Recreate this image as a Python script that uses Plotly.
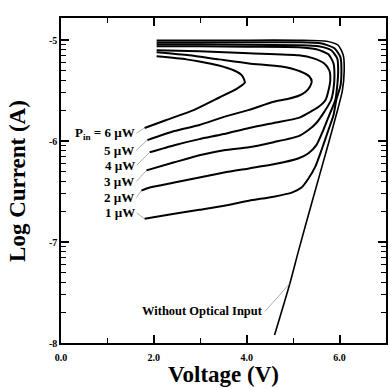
import numpy as np
import plotly.graph_objects as go

# ---------------- data (voltage in V, log10 current in A) ----------------
v_dark = [4.60, 4.93, 5.12, 5.42, 5.72, 5.97, 6.06, 6.10, 6.08, 5.97, 5.72, 5.12, 4.05, 2.98, 2.06]
logi_dark = [-7.92, -7.41, -7.08, -6.58, -6.09, -5.67, -5.50, -5.30, -5.15, -5.05, -5.01, -5.00, -5.00, -5.00, -5.00]

v_1uw = [1.80, 2.44, 2.98, 3.51, 4.05, 4.58, 4.97, 5.18, 5.33, 5.48, 5.61, 5.76, 5.87, 5.93, 6.02, 6.04, 6.02, 5.89, 5.59, 5.12, 4.05, 2.98, 2.06]
logi_1uw = [-6.77, -6.72, -6.68, -6.64, -6.59, -6.55, -6.51, -6.46, -6.37, -6.25, -6.09, -5.89, -5.74, -5.59, -5.45, -5.30, -5.17, -5.08, -5.03, -5.02, -5.02, -5.02, -5.02]

v_2uw = [1.73, 1.91, 2.44, 2.98, 3.51, 4.05, 4.58, 5.12, 5.33, 5.50, 5.65, 5.78, 5.91, 5.95, 5.97, 5.95, 5.82, 5.55, 5.12, 4.05, 2.98, 2.06]
logi_2uw = [-6.49, -6.46, -6.41, -6.36, -6.31, -6.27, -6.23, -6.17, -6.12, -6.04, -5.89, -5.74, -5.59, -5.45, -5.30, -5.18, -5.10, -5.06, -5.05, -5.045, -5.04, -5.04]

v_3uw = [1.84, 2.44, 2.98, 3.51, 4.05, 4.58, 5.12, 5.33, 5.50, 5.67, 5.82, 5.87, 5.89, 5.87, 5.76, 5.50, 5.12, 4.05, 2.98, 2.06]
logi_3uw = [-6.29, -6.21, -6.14, -6.09, -6.06, -6.01, -5.95, -5.89, -5.82, -5.71, -5.59, -5.48, -5.35, -5.23, -5.14, -5.09, -5.07, -5.065, -5.06, -5.06]

v_4uw = [1.91, 2.44, 2.98, 3.51, 4.05, 4.58, 5.12, 5.33, 5.55, 5.70, 5.76, 5.80, 5.78, 5.67, 5.44, 5.12, 4.05, 2.98, 2.06]
logi_4uw = [-6.11, -6.04, -5.98, -5.93, -5.87, -5.82, -5.77, -5.72, -5.66, -5.59, -5.50, -5.40, -5.30, -5.23, -5.18, -5.15, -5.13, -5.11, -5.10]

v_5uw = [1.86, 2.44, 2.98, 3.51, 4.05, 4.58, 4.90, 5.12, 5.27, 5.36, 5.40, 5.35, 5.16, 4.75, 4.05, 3.40, 2.76, 2.06]
logi_5uw = [-5.99, -5.90, -5.84, -5.76, -5.69, -5.61, -5.58, -5.55, -5.51, -5.46, -5.41, -5.36, -5.31, -5.26, -5.23, -5.19, -5.15, -5.12]

v_6uw = [1.80, 2.27, 2.87, 3.40, 3.79, 3.96, 3.90, 3.73, 3.40, 2.98, 2.70, 2.06]
logi_6uw = [-5.87, -5.79, -5.69, -5.57, -5.48, -5.42, -5.35, -5.30, -5.25, -5.21, -5.19, -5.16]

power_labels = ["P<sub>in</sub> = 6 µW", "5 µW", "4 µW", "3 µW", "2 µW", "1 µW"]
dark_label = "Without Optical Input"
x_title = "Voltage (V)"
y_title = "Log Current (A)"

x_tick_vals = [0, 2, 4, 6]
x_tick_text = ["0.0", "2.0", "4.0", "6.0"]
x_minor_vals = [1, 3, 5]
y_tick_vals = [-8, -7, -6, -5]
y_tick_text = ["-8", "-7", "-6", "-5"]

# ---------------- figure ----------------
SERIF = "Liberation Serif"
X_RANGE = [0, 7]
Y_RANGE = [-8, -4.78]
fig = go.Figure()

photo_curves = [(v_6uw, logi_6uw), (v_5uw, logi_5uw), (v_4uw, logi_4uw),
                (v_3uw, logi_3uw), (v_2uw, logi_2uw), (v_1uw, logi_1uw)]

fig.add_trace(go.Scatter(x=v_dark, y=logi_dark, mode="lines",
                         line=dict(color="black", width=1.6, shape="spline", smoothing=0.6),
                         showlegend=False, hoverinfo="skip"))
for v, li in photo_curves:
    fig.add_trace(go.Scatter(x=v, y=li, mode="lines",
                             line=dict(color="black", width=2, shape="spline", smoothing=0.6),
                             showlegend=False, hoverinfo="skip"))

# labels with thin leader lines to each curve's starting point
label_offsets = [(-8, 5), (-11, 10), (-13, 13), (-10, 11), (-5, 7), (-8, -6)]
for (v, li), txt, (ax, ay) in zip(photo_curves, power_labels, label_offsets):
    fig.add_annotation(x=v[0], y=li[0], text=txt, showarrow=True, arrowhead=0,
                       arrowwidth=0.6, arrowcolor="#777", ax=ax, ay=ay,
                       xanchor="right", yanchor="middle",
                       font=dict(family=SERIF, size=13, color="black", weight="bold"))

fig.add_annotation(x=v_dark[1], y=logi_dark[1], text=dark_label, showarrow=True, arrowhead=0,
                   arrowwidth=0.6, arrowcolor="#777", ax=-25, ay=28,
                   xanchor="right", yanchor="middle",
                   font=dict(family=SERIF, size=12.5, color="black", weight="bold"))

# axis titles placed as paper annotations for exact positioning
title_font = dict(family=SERIF, size=23, color="black", weight="bold")
fig.add_annotation(xref="paper", yref="paper", x=0.5, y=-0.097, text=x_title,
                   showarrow=False, xanchor="center", yanchor="middle", font=title_font)
fig.add_annotation(xref="paper", yref="paper", x=-0.134, y=0.5, text=y_title, textangle=-90,
                   showarrow=False, xanchor="center", yanchor="middle", font=title_font)

y_minor = [d + np.log10(k) for d in range(-8, -4) for k in range(2, 10)]
y_minor = [m for m in y_minor if m < Y_RANGE[1]]

tickfont = dict(family=SERIF, size=10, color="black", weight="bold")
axis_common = dict(showline=True, linecolor="black", linewidth=1.5, mirror="ticks",
                   ticks="inside", ticklen=8, tickwidth=1.5, tickcolor="black",
                   showgrid=False, zeroline=False, tickfont=tickfont)

fig.update_layout(
    xaxis=dict(range=X_RANGE, tickmode="array", tickvals=x_tick_vals, ticktext=x_tick_text,
               ticklabelstandoff=4, **axis_common),
    yaxis=dict(range=Y_RANGE, tickmode="array", tickvals=y_tick_vals, ticktext=y_tick_text,
               **axis_common),
    # overlay axes carrying the minor ticks
    xaxis2=dict(range=X_RANGE, overlaying="x", anchor="y", side="bottom",
                tickmode="array", tickvals=x_minor_vals, showticklabels=False,
                ticks="inside", ticklen=5, tickwidth=1.2, tickcolor="black", mirror="ticks",
                showline=True, linecolor="black", linewidth=1.5, showgrid=False, zeroline=False),
    yaxis2=dict(range=Y_RANGE, overlaying="y", anchor="x", side="left",
                tickmode="array", tickvals=y_minor, showticklabels=False,
                ticks="inside", ticklen=5, tickwidth=1.2, tickcolor="black", mirror="ticks",
                showline=True, linecolor="black", linewidth=1.5, showgrid=False, zeroline=False),
    width=390, height=389, margin=dict(l=61, r=2, t=18, b=46),
    plot_bgcolor="white", paper_bgcolor="white",
)
# an invisible trace so the overlay axes are drawn
fig.add_trace(go.Scatter(x=[X_RANGE[0]], y=[Y_RANGE[0]], xaxis="x2", yaxis="y2", mode="markers",
                         marker=dict(opacity=0), showlegend=False, hoverinfo="skip"))

fig.write_html("out.html", config={"displayModeBar": False},
               post_script="document.body.style.margin='0px';")
